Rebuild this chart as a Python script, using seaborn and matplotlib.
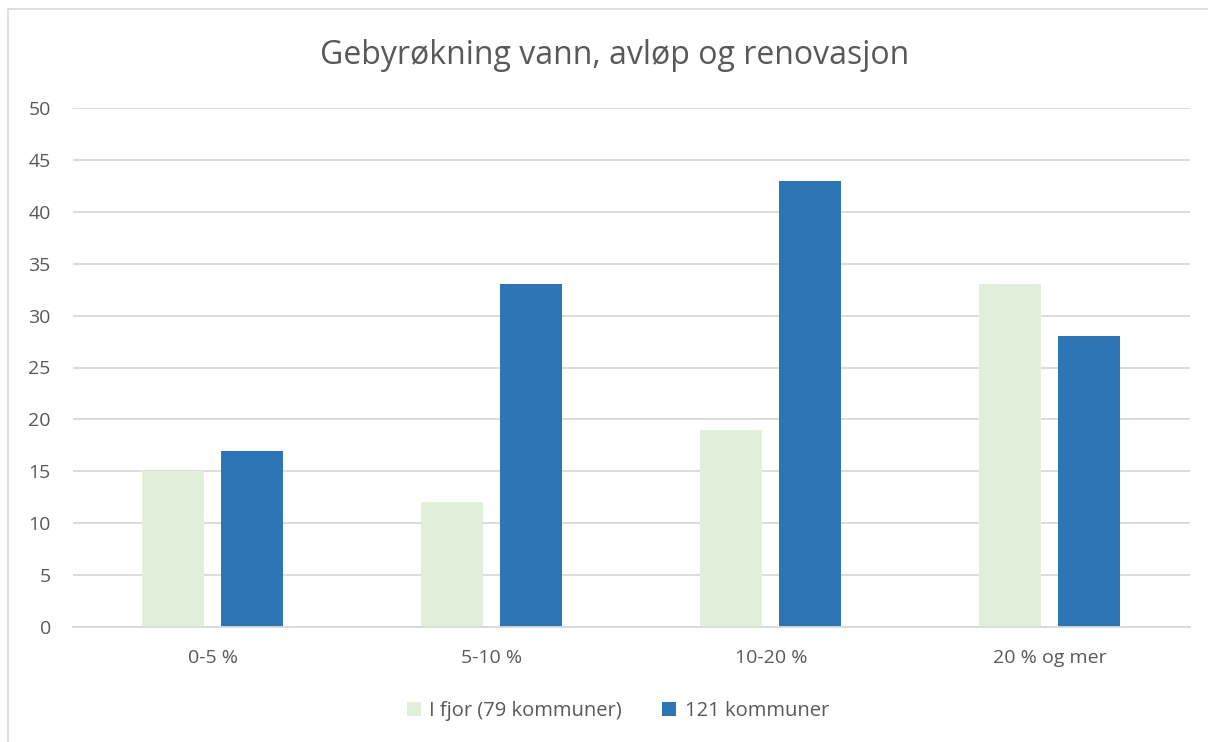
import matplotlib
matplotlib.use("Agg")
import matplotlib.pyplot as plt
import seaborn as sns
import pandas as pd
from matplotlib.patches import Rectangle

categories = ["0-5 %", "5-10 %", "10-20 %", "20 % og mer"]
series_names = ["I fjor (79 kommuner)", "121 kommuner"]
last_year = [15, 12, 19, 33]
this_year = [17, 33, 43, 28]
colors = ["#E2EFDA", "#2E75B6"]

df = pd.DataFrame({
    "Kategori": categories * 2,
    "Serie": [series_names[0]] * 4 + [series_names[1]] * 4,
    "Verdi": last_year + this_year,
})

sns.set_theme(style="white")
plt.rcParams["font.family"] = ["Open Sans", "DejaVu Sans"]

fig = plt.figure(figsize=(12.08, 7.42), dpi=100)
ax = fig.add_axes([73 / 1208, 1 - 627 / 742, 1116.5 / 1208, (627 - 108) / 742])

sns.barplot(data=df, x="Kategori", y="Verdi", hue="Serie", palette=colors,
            width=0.566, gap=0.216, ax=ax, legend=True, saturation=1,
            edgecolor="none", linewidth=0)

ax.set_xlim(-0.5, 3.5)
ax.set_ylim(0, 50)
ax.set_yticks(range(0, 51, 5))
ax.yaxis.grid(True, color="#D9D9D9", linewidth=1.3)
ax.set_axisbelow(True)
for s in ["top", "right", "left"]:
    ax.spines[s].set_visible(False)
ax.spines["bottom"].set_color("#D9D9D9")
ax.spines["bottom"].set_linewidth(1.3)
ax.tick_params(axis="both", length=0, labelsize=14, colors="#595959")
ax.tick_params(axis="y", pad=16)
ax.tick_params(axis="x", pad=16)
ax.set_xlabel("")
ax.set_ylabel("")

fig.text(615 / 1208, 1 - 55 / 742, "Gebyrøkning vann, avløp og renovasjon",
         fontsize=23, color="#595959", ha="center", va="center")

leg = ax.legend(loc="center", bbox_to_anchor=(618 / 1208, 1 - 711 / 742),
                bbox_transform=fig.transFigure, ncol=2, frameon=False,
                fontsize=14.5, handlelength=0.7, handleheight=0.7,
                handletextpad=0.4, columnspacing=2.0)
for t in leg.get_texts():
    t.set_color("#595959")

fig.patches.append(Rectangle((8 / 1208, -0.1), 1.2, 1 - 9 / 742 + 0.1,
                             transform=fig.transFigure, fill=False,
                             edgecolor="#D9D9D9", linewidth=1.2))

fig.savefig("out.png", dpi=100, facecolor="white")
